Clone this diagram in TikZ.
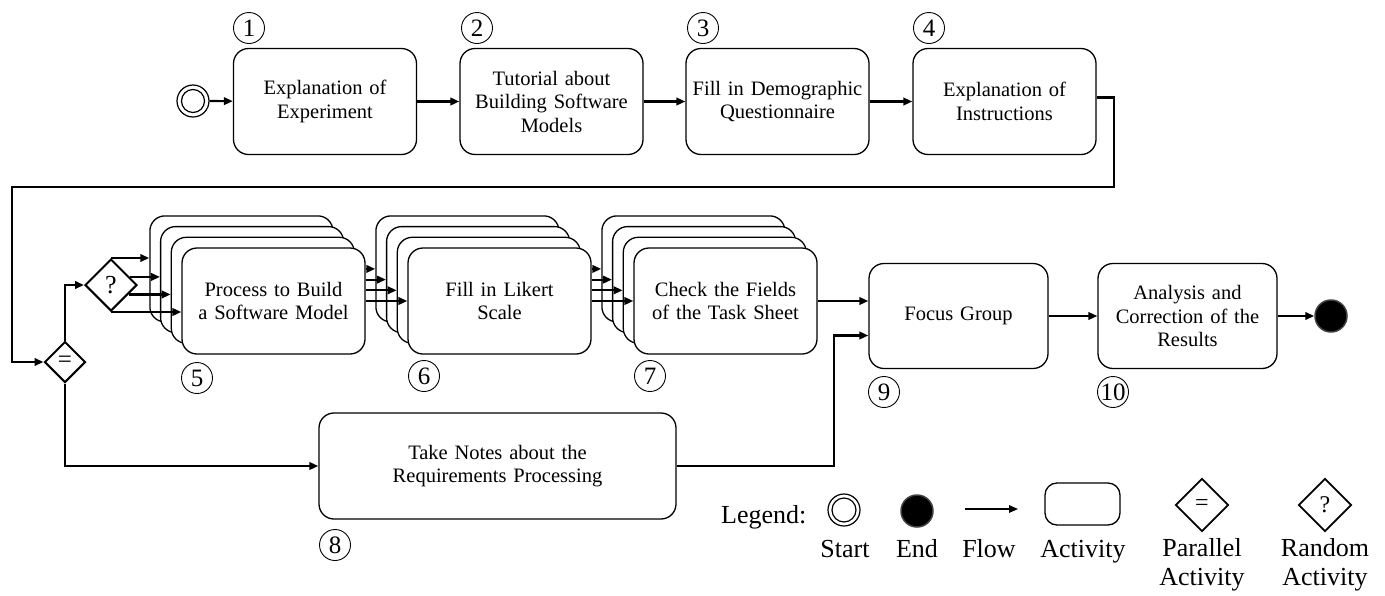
\documentclass[tikz,border=0pt]{standalone}
\usepackage{fontspec}
\setmainfont{Liberation Serif}
\usetikzlibrary{arrows.meta,shapes.geometric,calc}
\begin{document}
\begin{tikzpicture}[x=1pt,y=-1pt,
  act/.style={draw,line width=1.3pt,rounded corners=15pt,fill=white,minimum width=183pt,minimum height=106pt,align=center,text width=175pt,inner sep=0pt,font=\fontsize{20.5}{23.5}\selectfont},
  num/.style={circle,draw,line width=0.9pt,inner sep=0pt,minimum size=31pt,font=\fontsize{25}{25}\selectfont},
  flow/.style={line width=2.2pt,-{Triangle[length=9pt,width=7.5pt]}},
  gate/.style={diamond,draw,line width=2pt,inner sep=0pt,aspect=1},
  lgd/.style={font=\fontsize{26}{29}\selectfont,align=center,inner sep=0pt}
]
\useasboundingbox (0,0) rectangle (1385,595);

% start
\node[circle,draw,line width=1.2pt,minimum size=32pt,inner sep=0pt] (s) at (193,101) {};
\draw[line width=1.2pt] (s.center) circle[radius=11.5pt];

% top row
\node[act] (b1) at (325,101.5) {Explanation of\\Experiment};
\node[act] (b2) at (551.5,101.5) {Tutorial about\\Building Software\\Models};
\node[act] (b3) at (777.5,101.5) {Fill in Demographic\\Questionnaire};
\node[act] (b4) at (1004.5,101.5) {Explanation of\\Instructions};
\node[num] (n1) at (249,28) {1};
\node[num] (n2) at (477,28) {2};
\node[num] (n3) at (703,28) {3};
\node[num] (n4) at (929,28) {4};

% gates
\node[gate,minimum width=41pt,minimum height=41pt,font=\fontsize{25}{25}\selectfont] (eq) at (65,362) {=};
\node[gate,minimum width=52pt,minimum height=52pt,font=\fontsize{26}{26}\selectfont] (q) at (111,285) {?};

% stack 5
\node[act] (b5a) at (241.4,268.9) {};
\node[act] (b5b) at (252.1,279.6) {};
\node[act] (b5c) at (262.8,290.3) {};
\node[act] (b5) at (273.5,301) {Process to Build\\a Software Model};
% stack 6
\node[act] (b6a) at (467.4,268.9) {};
\node[act] (b6b) at (478.1,279.6) {};
\node[act] (b6c) at (488.8,290.3) {};
\node[act] (b6) at (499.5,301) {Fill in Likert\\Scale};
% stack 7
\node[act] (b7a) at (693.4,268.9) {};
\node[act] (b7b) at (704.1,279.6) {};
\node[act] (b7c) at (714.8,290.3) {};
\node[act] (b7) at (725.5,301) {Check the Fields\\of the Task Sheet};

\node[num] (n5) at (197,378) {5};
\node[num] (n6) at (424,376) {6};
\node[num] (n7) at (650,376) {7};

% 8, 9, 10
\node[act,minimum width=357pt,text width=340pt] (b8) at (497.5,466) {Take Notes about the\\Requirements Processing};
\node[num] (n8) at (335,545) {8};
\node[act,minimum width=179pt,minimum height=105pt,text width=170pt] (b9) at (958.5,316) {Focus Group};
\node[act,minimum width=179pt,minimum height=105pt,text width=170pt] (b10) at (1187.5,316) {Analysis and\\Correction of the\\Results};
\node[num] (n9) at (884,392) {9};
\node[num] (n10) at (1113,392) {10};

% end
\node[circle,fill=black,draw=black!75,line width=1.5pt,minimum size=32pt,inner sep=0pt] (e) at (1331,316) {};

% connectors
\draw[flow] (s) -- (b1);
\draw[flow] (b1) -- (b2);
\draw[flow] (b2) -- (b3);
\draw[flow] (b3) -- (b4);
\coordinate (r1) at (1114,187);
\coordinate (l1) at (12,362);
\draw[flow] ([yshift=4pt]b4.east) -| (r1) -| (l1) -- (eq.west);
\draw[flow] (eq.north) |- (q.west);
\draw[flow] (eq.south) |- (b8.west);

\coordinate (q2) at ($(q.east)!0.3!(q.north)$);
\coordinate (q3) at ($(q.east)!0.35!(q.south)$);
\draw[flow] (q.north) -- (q.north -| b5a.west);
\draw[flow] (q2) -- (q2 -| b5b.west);
\draw[flow] (q3) -- (q3 -| b5c.west);
\draw[flow] (q.south) -- (q.south -| b5.west);

\foreach \t in {b6a,b6b,b6c,b6} \draw[flow] (b5.east |- \t.west) -- (\t.west);
\foreach \t in {b7a,b7b,b7c,b7} \draw[flow] (b6.east |- \t.west) -- (\t.west);

\draw[flow] (b7.east) -- (b7.east -| b9.west);
\coordinate (m8) at (834,466);
\draw[flow] (b8.east) -- (m8) |- ([yshift=-19.5pt]b9.west);
\draw[flow] (b9) -- (b10);
\draw[flow] (b10) -- (e);

% legend
\node[lgd,anchor=base west] (lg) at (721,523) {Legend:};
\node[circle,draw,line width=1.2pt,minimum size=32pt,inner sep=0pt] (ls) at (844,510) {};
\draw[line width=1.2pt] (ls.center) circle[radius=12pt];
\node[circle,fill=black,draw=black!75,line width=1.5pt,minimum size=32pt,inner sep=0pt] (le) at (917,511) {};
\coordinate (fa) at (965,509);
\coordinate (fb) at (1018,509);
\draw[flow,line width=1.6pt] (fa) -- (fb);
\node[draw,line width=1.3pt,rounded corners=12pt,minimum width=75pt,minimum height=42pt] (la) at (1082.5,504) {};
\node[gate,line width=1.8pt,minimum width=53pt,minimum height=53pt,font=\fontsize{24}{24}\selectfont] (lp) at (1202,505) {=};
\node[gate,line width=1.8pt,minimum width=53pt,minimum height=53pt,font=\fontsize{24}{24}\selectfont] (lr) at (1325,505) {?};
\node[lgd,anchor=base] (t1) at (845,557) {Start};
\node[lgd,anchor=base] (t2) at (917,557) {End};
\node[lgd,anchor=base] (t3) at (989,557) {Flow};
\node[lgd,anchor=base] (t4) at (1083,557) {Activity};
\node[lgd,anchor=base] (t5) at (1202,585) {Parallel\\Activity};
\node[lgd,anchor=base] (t6) at (1325,585) {Random\\Activity};
\end{tikzpicture}
\end{document}
